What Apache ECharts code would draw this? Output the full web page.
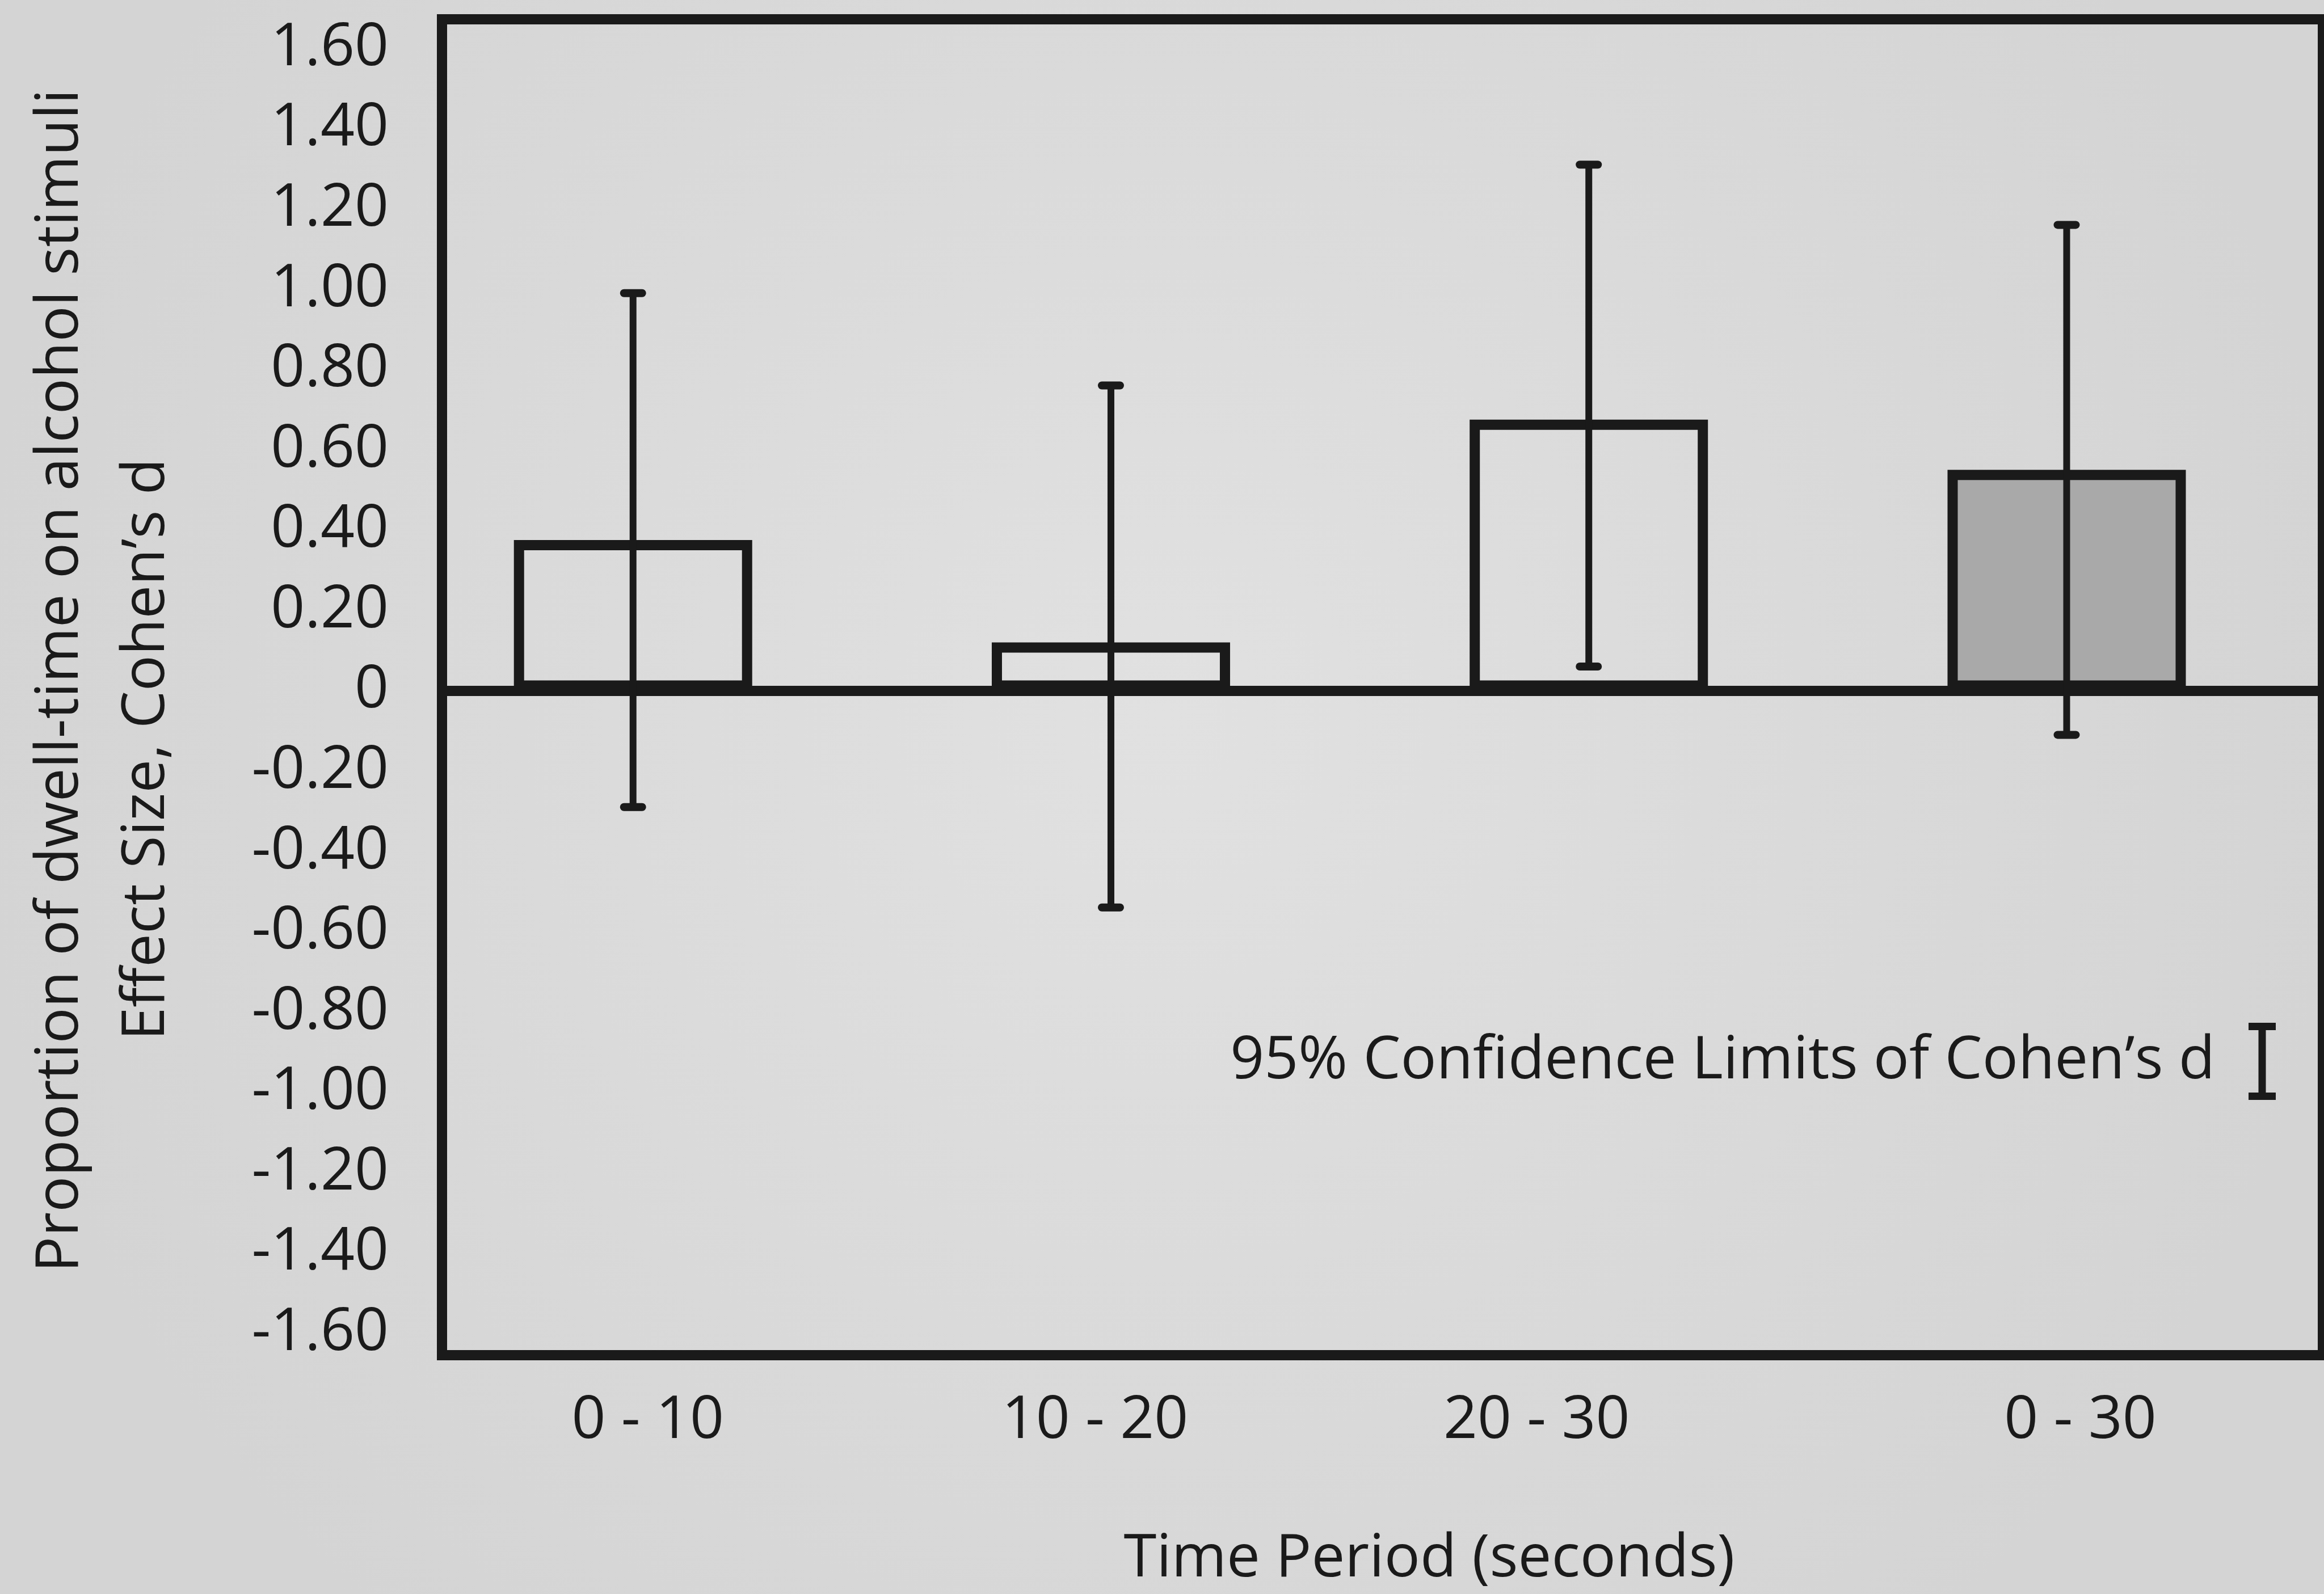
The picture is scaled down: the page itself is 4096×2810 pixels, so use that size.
<!DOCTYPE html>
<html>
<head>
<meta charset="utf-8">
<style>
  html, body { margin: 0; padding: 0; background: #dcdcdc; }
  #chart { width: 4096px; height: 2810px; }
</style>
<script src="https://cdn.jsdelivr.net/npm/echarts@6/dist/echarts.min.js"></script>
</head>
<body>
<div id="chart"></div>
<script>
// ---- data ----
const categories = ['0 - 10', '10 - 20', '20 - 30', '0 - 30'];
const effectSize = [0.375, 0.12, 0.675, 0.55];
const ciLower = [-0.29, -0.54, 0.06, -0.11];
const ciUpper = [0.99, 0.76, 1.31, 1.16];
const yTicks = [1.6, 1.4, 1.2, 1.0, 0.8, 0.6, 0.4, 0.2, 0, -0.2, -0.4, -0.6, -0.8, -1.0, -1.2, -1.4, -1.6];
const yTitleLine1 = 'Proportion of dwell-time on alcohol stimuli';
const yTitleLine2 = 'Effect Size, Cohen\u2019s d';
const xTitle = 'Time Period (seconds)';
const legendName = '95% Confidence Limits of Cohen\u2019s d';

// ---- style ----
const INK = '#1a1a1a';
const FONT = 'Open Sans';
const FS = 105;
const Y_MIN = -1.655, Y_MAX = 1.672;
const TOP = 34, HEIGHT = 2355;
// per-label horizontal nudges (padding, px) to follow the original label placement
const labelPads = [[0, 0, 0, 52], [0, 56, 0, 0], [0, 184, 0, 0], [0, 0, 0, 48]];

const chart = echarts.init(document.getElementById('chart'), null, { renderer: 'canvas' });

const barData = effectSize.map((v, i) => ({
  value: v,
  itemStyle: { color: i === 3 ? '#a9a9a9' : 'rgba(0,0,0,0)' }
}));
const errData = categories.map((c, i) => [i, ciLower[i], ciUpper[i]]);

const rich = {};
labelPads.forEach((p, i) => {
  rich['l' + i] = { fontFamily: FONT, fontSize: FS, color: INK, padding: p };
});

const option = {
  backgroundColor: {
    type: 'radial', x: 0.5, y: 0.45, r: 0.75,
    colorStops: [{ offset: 0, color: '#e1e1e1' }, { offset: 1, color: '#d4d4d4' }]
  },
  animation: false,
  textStyle: { fontFamily: FONT, color: INK },
  grid: [
    { left: 694.6, width: 3369, top: TOP, height: HEIGHT, show: false },
    { left: 779, width: 3315, top: TOP, height: HEIGHT, show: true,
      borderColor: INK, borderWidth: 18, backgroundColor: 'rgba(0,0,0,0)' }
  ],
  xAxis: [
    { type: 'category', gridIndex: 0, data: categories, boundaryGap: true,
      axisLine: { show: false }, axisTick: { show: false }, splitLine: { show: false },
      axisLabel: { fontFamily: FONT, fontSize: FS, color: INK, margin: 64,
        formatter: (v, i) => '{l' + i + '|' + v + '}', rich: rich } },
    { type: 'category', gridIndex: 1, data: categories, boundaryGap: true,
      axisLine: { show: true, onZero: true, lineStyle: { color: INK, width: 18 } },
      axisTick: { show: false }, axisLabel: { show: false }, splitLine: { show: false } }
  ],
  yAxis: [
    { type: 'value', gridIndex: 0, min: Y_MIN, max: Y_MAX, show: false,
      splitLine: { show: false } },
    { type: 'value', gridIndex: 1, min: Y_MIN, max: Y_MAX,
      axisLine: { show: false }, axisTick: { show: false }, splitLine: { show: false },
      axisLabel: {
        customValues: yTicks,
        fontFamily: FONT, fontSize: FS, color: INK, margin: 94,
        formatter: v => (Math.abs(v) < 1e-9 ? '0' : v.toFixed(2))
      } }
  ],
  legend: {
    show: true,
    selectedMode: false,
    right: 85, top: 1803, padding: 0,
    align: 'right',
    itemWidth: 48, itemHeight: 136,
    textStyle: { fontFamily: FONT, fontSize: FS, color: INK, padding: [0, 54, 0, 0] },
    data: [{
      name: legendName,
      icon: 'path://M0,0 H48 V13 H30.5 V123 H48 V136 H0 V123 H17.5 V13 H0 Z',
      itemStyle: { color: INK, borderWidth: 0 }
    }]
  },
  series: [
    {
      name: 'Cohen\u2019s d',
      type: 'bar',
      xAxisIndex: 0, yAxisIndex: 0,
      barWidth: 420,
      data: barData,
      itemStyle: { borderColor: INK, borderWidth: 18 },
      z: 2
    },
    {
      name: legendName,
      type: 'custom',
      xAxisIndex: 0, yAxisIndex: 0,
      data: errData,
      itemStyle: { color: INK },
      z: 4,
      renderItem: function (params, api) {
        const x = api.value(0);
        const lo = api.coord([x, api.value(1)]);
        const hi = api.coord([x, api.value(2)]);
        const cx = lo[0];
        const half = 16;
        return {
          type: 'group',
          children: [
            { type: 'line', shape: { x1: cx, y1: hi[1], x2: cx, y2: lo[1] },
              style: { stroke: INK, lineWidth: 12 } },
            { type: 'line', shape: { x1: cx - half, y1: hi[1], x2: cx + half, y2: hi[1] },
              style: { stroke: INK, lineWidth: 14, lineCap: 'round' } },
            { type: 'line', shape: { x1: cx - half, y1: lo[1], x2: cx + half, y2: lo[1] },
              style: { stroke: INK, lineWidth: 14, lineCap: 'round' } }
          ]
        };
      }
    }
  ],
  graphic: [
    { type: 'text', x: 107.5, y: 1200, rotation: Math.PI / 2,
      style: { text: yTitleLine1, fontFamily: FONT, fontSize: FS, fill: INK,
               align: 'center', verticalAlign: 'middle', textAlign: 'center', textVerticalAlign: 'middle' } },
    { type: 'text', x: 259.5, y: 1321, rotation: Math.PI / 2,
      style: { text: yTitleLine2, fontFamily: FONT, fontSize: FS, fill: INK,
               align: 'center', verticalAlign: 'middle', textAlign: 'center', textVerticalAlign: 'middle' } },
    { type: 'text', x: 2519, y: 2749.5,
      style: { text: xTitle, fontFamily: FONT, fontSize: FS, fill: INK,
               align: 'center', verticalAlign: 'middle', textAlign: 'center', textVerticalAlign: 'middle' } }
  ]
};

chart.setOption(option);
</script>
</body>
</html>
